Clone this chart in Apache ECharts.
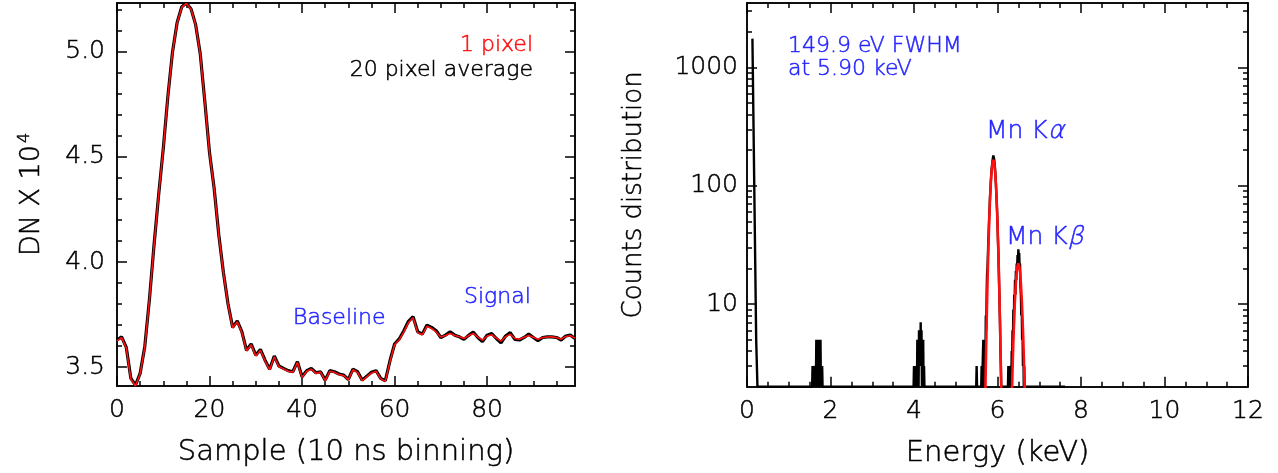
<!DOCTYPE html>
<html><head><meta charset="utf-8">
<script src="https://cdn.jsdelivr.net/npm/echarts@6/dist/echarts.min.js"></script>
<style>html,body{margin:0;padding:0;background:#fff}#c{width:1278px;height:473px}</style>
</head><body><div id="c"></div>
<script>
// ---------------- DATA ----------------
// Left panel: waveform, one value per sample (10 ns bins), x = sample index
const pulseAvg20 = [3.629,3.644,3.594,3.446,3.414,3.470,3.597,3.820,4.080,4.320,
  4.540,4.790,5.000,5.140,5.215,5.233,5.205,5.130,4.990,4.760,
  4.520,4.350,4.130,3.950,3.800,3.689,3.720,3.668,3.580,3.610,
  3.557,3.584,3.533,3.490,3.553,3.505,3.494,3.483,3.478,3.526,
  3.454,3.483,3.494,3.473,3.478,3.438,3.483,3.478,3.467,3.462,
  3.441,3.490,3.478,3.438,3.457,3.475,3.483,3.446,3.435,3.530,
  3.610,3.634,3.673,3.718,3.740,3.668,3.657,3.700,3.689,3.673,
  3.641,3.652,3.668,3.652,3.644,3.632,3.651,3.667,3.641,3.621,
  3.652,3.660,3.636,3.616,3.648,3.664,3.632,3.629,3.641,3.657,
  3.641,3.625,3.641,3.644,3.644,3.641,3.629,3.648,3.652,3.636];
const pulse1px = [3.625,3.640,3.590,3.442,3.410,3.468,3.594,3.818,4.078,4.318,
  4.538,4.788,4.998,5.138,5.213,5.231,5.203,5.128,4.988,4.758,
  4.518,4.348,4.128,3.948,3.798,3.686,3.716,3.664,3.577,3.606,
  3.553,3.580,3.530,3.487,3.549,3.502,3.491,3.480,3.476,3.522,
  3.451,3.480,3.490,3.470,3.476,3.436,3.480,3.475,3.464,3.460,
  3.439,3.487,3.475,3.436,3.454,3.472,3.480,3.444,3.432,3.526,
  3.606,3.630,3.668,3.712,3.735,3.664,3.654,3.694,3.684,3.666,
  3.643,3.650,3.660,3.650,3.644,3.636,3.650,3.660,3.643,3.628,
  3.648,3.654,3.638,3.624,3.645,3.656,3.636,3.633,3.642,3.650,
  3.642,3.632,3.641,3.643,3.644,3.641,3.633,3.646,3.649,3.638];
const sampleTicks = [0, 20, 40, 60, 80];
const sampleMinorTicks = [5,10,15,25,30,35,45,50,55,65,70,75,85,90,95];
const dnTicks = [3.5, 4.0, 4.5, 5.0];
const dnMinorTicks = [3.5,3.6,3.7,3.8,3.9,4.0,4.1,4.2,4.3,4.4,4.5,4.6,4.7,4.8,4.9,5.0,5.1,5.2];

// Right panel: energy histogram (keV, counts); counts at the plot floor (2) mark empty bins
const histEnergy = [0.13,0.22,0.25,1.56,
  1.57,1.58,1.59,1.60,1.61,1.62,1.63,1.64,1.65,1.66,1.67,1.68,1.69,1.70,1.71,1.72,1.73,1.74,1.75,1.76,1.77,1.78,1.79,1.80,1.81,1.82,
  3.99,4.00,4.01,4.02,4.03,4.04,4.05,4.06,4.07,4.08,4.09,4.10,4.11,4.12,4.13,4.14,4.15,4.16,4.17,4.18,4.19,4.20,4.21,4.22,4.23,4.24,4.25,4.26,
  5.49,5.50,5.51,5.61,5.62,5.63,5.65,5.66,5.67,5.68,5.69,
  5.70,5.71,5.72,5.73,5.74,5.75,5.76,5.77,5.78,5.79,5.80,5.81,5.82,5.83,5.84,5.85,5.86,5.87,5.88,5.89,
  5.90,5.91,5.92,5.93,5.94,5.95,5.96,5.97,5.98,5.99,6.00,6.01,6.02,6.03,6.04,6.05,6.06,6.07,6.08,6.09,
  6.25,6.26,6.27,6.31,6.32,6.33,6.34,6.35,6.36,6.37,6.38,6.39,6.40,6.41,6.42,6.43,6.44,6.45,6.46,6.47,6.48,6.49,
  6.50,6.51,6.52,6.53,6.54,6.55,6.56,6.57,6.58,6.59,6.60,6.61,6.62,6.63,6.64,6.65,7.62];
const histCounts = [1750,5,2,2,
  3,2,3,3,2,3,2,3,2,5,3,5,2,5,3,5,2,5,3,5,2,3,2,3,2,2,
  2,3,2,3,2,3,2,3,2,5,3,5,2,6,3,6,3,7,3,6,2,5,3,5,2,3,2,2,
  2,3,2,2,3,2,2,5,2,5,3,
  5,3,8,6,12,18,20,26,34,42,54,64,80,92,108,124,138,150,162,172,
  180,174,168,155,142,124,108,90,74,62,48,36,28,20,14,10,7,4,3,2,
  2,3,2,2,3,2,4,3,6,5,9,6,12,10,16,12,19,16,22,20,26,24,
  29,25,27,20,22,14,12,8,10,5,6,3,4,2,3,2,2];
// Gaussian fits (keV, counts)
const fitEnergy = [5.70,5.72,5.74,5.76,5.78,5.80,5.82,5.84,5.86,5.88,5.90,5.92,5.94,5.96,5.98,6.00,6.02,6.04,6.06,6.08,6.10,
  null,
  6.34,6.36,6.38,6.40,6.42,6.44,6.46,6.48,6.50,6.52,6.54,6.56,6.58,6.60,6.62,6.64,6.66];
const fitCounts = [1.2,3.05,7.0,14.8,28,48,75,106,135,157,165,157,135,106,75,48,28,14.8,7.0,3.05,1.2,
  null,
  1.46,2.76,4.8,7.6,11.2,15.0,18.6,21.1,22,21.1,18.6,15.0,11.2,7.6,4.8,2.76,1.46];
const energyTicks = [0, 2, 4, 6, 8, 10, 12];
const energyMinorTicks = [0.5,1,1.5,2.5,3,3.5,4.5,5,5.5,6.5,7,7.5,8.5,9,9.5,10.5,11,11.5];
const countTicks = [10, 100, 1000];
const countMinorTicks = [3,4,5,6,7,8,9,20,30,40,50,60,70,80,90,200,300,400,500,600,700,800,900,2000,3000];

// ---------------- CHART ----------------
const FONT = "'DejaVu Sans Light', 'DejaVu Sans ExtraLight', 'DejaVu Sans', sans-serif";
const FW = 200;
const BLUE = '#2626ff', RED = '#ff1010';
const lineS = {color: '#000', width: 1.5};

function axis(kind, o) {
  const major = o.major;
  const a = {
    type: o.type || 'value', gridIndex: o.grid, position: o.pos, min: o.min, max: o.max,
    axisLine: {show: true, onZero: false, lineStyle: lineS},
    axisTick: {show: true, inside: true, length: major ? 10 : 5, customValues: o.ticks, lineStyle: lineS},
    axisLabel: {show: !!o.label, customValues: o.ticks, margin: o.margin || 12,
      color: '#000', fontFamily: FONT, fontWeight: FW, fontSize: 25, formatter: o.fmt,
      textBorderColor: '#000', textBorderWidth: 0.5},
    splitLine: {show: false}, minorTick: {show: false}, minorSplitLine: {show: false},
    silent: true
  };
  if (o.name) {
    a.name = o.name; a.nameLocation = 'middle'; a.nameGap = o.nameGap;
    a.nameTextStyle = Object.assign({color: '#000', fontFamily: FONT, fontWeight: FW, fontSize: 27,
      textBorderColor: '#000', textBorderWidth: 0.5}, o.nameStyle || {});
  }
  return a;
}

const xAxes = [
  axis('x', {grid: 0, pos: 'bottom', min: 0, max: 99, major: true, ticks: sampleTicks, label: true,
    fmt: v => String(v), name: 'Sample (10 ns binning)', nameGap: 52, nameStyle: {fontSize: 29}}),
  axis('x', {grid: 0, pos: 'bottom', min: 0, max: 99, ticks: sampleMinorTicks}),
  axis('x', {grid: 0, pos: 'top', min: 0, max: 99, major: true, ticks: sampleTicks}),
  axis('x', {grid: 0, pos: 'top', min: 0, max: 99, ticks: sampleMinorTicks}),
  axis('x', {grid: 1, pos: 'bottom', min: 0, max: 12, major: true, ticks: energyTicks, label: true,
    fmt: v => String(v), name: 'Energy (keV)', nameGap: 52, nameStyle: {fontSize: 29}}),
  axis('x', {grid: 1, pos: 'bottom', min: 0, max: 12, ticks: energyMinorTicks}),
  axis('x', {grid: 1, pos: 'top', min: 0, max: 12, major: true, ticks: energyTicks}),
  axis('x', {grid: 1, pos: 'top', min: 0, max: 12, ticks: energyMinorTicks})
];
const yAxes = [
  axis('y', {grid: 0, pos: 'left', min: 3.41, max: 5.233, major: true, ticks: dnTicks, label: true,
    fmt: v => Number(v).toFixed(1), name: 'DN X 10{sup|4}', nameGap: 70,
    nameStyle: {rich: {sup: {fontFamily: FONT, fontWeight: FW, fontSize: 16, verticalAlign: 'top',
      padding: [0, 0, 14, 2], textBorderColor: '#000', textBorderWidth: 0.5}}}}),
  axis('y', {grid: 0, pos: 'left', min: 3.41, max: 5.233, ticks: dnMinorTicks}),
  axis('y', {grid: 0, pos: 'right', min: 3.41, max: 5.233, major: true, ticks: dnTicks}),
  axis('y', {grid: 0, pos: 'right', min: 3.41, max: 5.233, ticks: dnMinorTicks}),
  axis('y', {type: 'log', grid: 1, pos: 'left', min: 2, max: 3500, major: true, ticks: countTicks, label: true,
    margin: 9, fmt: v => String(Math.round(v)), name: 'Counts distribution', nameGap: 100, nameStyle: {fontSize: 26}}),
  axis('y', {type: 'log', grid: 1, pos: 'left', min: 2, max: 3500, ticks: countMinorTicks}),
  axis('y', {type: 'log', grid: 1, pos: 'right', min: 2, max: 3500, major: true, ticks: countTicks}),
  axis('y', {type: 'log', grid: 1, pos: 'right', min: 2, max: 3500, ticks: countMinorTicks})
];

function txt(x, y, text, color, size, align, rich) {
  return {type: 'text', x: x, y: y, silent: true,
    style: {text: text, fill: color, fontFamily: FONT, fontWeight: FW, fontSize: size,
      stroke: color, lineWidth: 0.5,
      textAlign: align || 'left', textVerticalAlign: 'middle', rich: rich}};
}
const greek = {g: {fontFamily: FONT, fontWeight: FW, fontSize: 25, fill: BLUE, stroke: BLUE, lineWidth: 0.5, fontStyle: 'italic'}};

const option = {
  animation: false,
  backgroundColor: '#fff',
  grid: [
    {left: 117, top: 3, width: 458, height: 383},
    {left: 747, top: 3, width: 501, height: 384}
  ],
  xAxis: xAxes,
  yAxis: yAxes,
  series: [
    {name: '20 pixel average', type: 'line', xAxisIndex: 0, yAxisIndex: 0, showSymbol: false, symbol: 'none',
      data: pulseAvg20.map((v, i) => [i, v]), lineStyle: {color: '#000', width: 3.2}, z: 2},
    {name: '1 pixel', type: 'line', xAxisIndex: 0, yAxisIndex: 0, showSymbol: false, symbol: 'none',
      data: pulse1px.map((v, i) => [i, v]), lineStyle: {color: RED, width: 1.6}, z: 3},
    {name: 'Spectrum', type: 'line', xAxisIndex: 4, yAxisIndex: 4, showSymbol: false, symbol: 'none',
      data: histEnergy.map((e, i) => [e, histCounts[i]]), lineStyle: {color: '#000', width: 2.4}, z: 2},
    {name: 'Fit', type: 'line', xAxisIndex: 4, yAxisIndex: 4, showSymbol: false, symbol: 'none', connectNulls: false,
      data: fitEnergy.map((e, i) => e === null ? [null, null] : [e, fitCounts[i]]), lineStyle: {color: RED, width: 2.6}, z: 3}
  ],
  graphic: [
    txt(533, 45, '1 pixel', RED, 22, 'right'),
    txt(533, 70, '20 pixel average', '#000', 22, 'right'),
    txt(293, 318, 'Baseline', BLUE, 22),
    txt(464, 297, 'Signal', BLUE, 22),
    txt(788, 46, '149.9 eV FWHM', BLUE, 22),
    txt(788, 69, 'at 5.90 keV', BLUE, 22),
    txt(986, 131, 'Mn K{g|α}', BLUE, 25, 'left', greek),
    txt(1006, 237, 'Mn K{g|β}', BLUE, 25, 'left', greek)
  ]
};
const chart = echarts.init(document.getElementById('c'), null, {renderer: 'canvas'});
chart.setOption(option);
</script></body></html>
